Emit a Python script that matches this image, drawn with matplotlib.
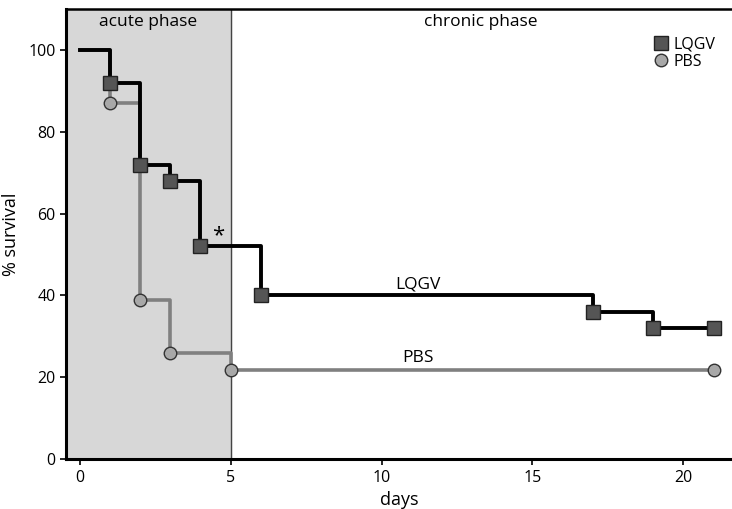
"""Kaplan-Meier style survival curves: LQGV vs PBS."""

import numpy as np
import matplotlib
matplotlib.use("Agg")
import matplotlib.pyplot as plt  # noqa: E402

# step data (day, % survival)
lqgv_days = [0, 1, 2, 3, 4, 6, 17, 19, 21]
lqgv_surv = [100, 92, 72, 68, 52, 40, 36, 32, 32]
pbs_days = [0, 1, 2, 3, 5, 21]
pbs_surv = [100, 87, 39, 26, 21.7, 21.7]

x_ticks = [0, 5, 10, 15, 20]
y_ticks = [0, 20, 40, 60, 80, 100]

plt.rcParams["font.family"] = ["Open Sans", "DejaVu Sans"]

fig = plt.figure(figsize=(7.32, 5.09), dpi=100)
ax = fig.add_axes([0.090, 0.098, 0.912, 0.884])

ax.axvspan(-0.46, 5, color="#d7d7d7", zorder=0)
ax.axvline(5, color="#444444", lw=1.0, zorder=1)

ax.step(pbs_days, pbs_surv, where="post", color="#808080", lw=2.6, zorder=2)
ax.plot(pbs_days[1:], pbs_surv[1:], "o", ms=9, mfc="#a8a8a8", mec="#333333",
        mew=1.0, zorder=3, label="PBS")
ax.step(lqgv_days, lqgv_surv, where="post", color="black", lw=2.8, zorder=4)
ax.plot(lqgv_days[1:], lqgv_surv[1:], "s", ms=9.5, mfc="#555555", mec="#222222",
        mew=1.0, zorder=5, label="LQGV")

ax.text(2.25, 106.8, "acute phase", ha="center", va="center", fontsize=12.5)
ax.text(13.3, 106.8, "chronic phase", ha="center", va="center", fontsize=12.5)
ax.text(11.2, 42.8, "LQGV", ha="center", va="center", fontsize=12.5)
ax.text(11.2, 24.8, "PBS", ha="center", va="center", fontsize=12.5)
ax.text(4.6, 54.5, "*", ha="center", va="center", fontsize=16)

handles, labels = ax.get_legend_handles_labels()
ax.legend(handles[::-1], labels[::-1], loc="upper right", bbox_to_anchor=(0.99, 0.965),
          frameon=False, fontsize=11.5, handletextpad=0.2, labelspacing=0.1,
          handlelength=1.2, borderpad=0.2)

ax.set_xlim(-0.46, 21.66)
ax.set_ylim(0, 110)
ax.set_xticks(x_ticks)
ax.set_yticks(y_ticks)
ax.tick_params(labelsize=11.5, width=1.2, length=4)
ax.set_xlabel("days", fontsize=13, labelpad=4)
ax.set_ylabel("% survival", fontsize=13, labelpad=6)
for side in ["left", "bottom"]:
    ax.spines[side].set_linewidth(2.2)
ax.spines["top"].set_linewidth(1.8)
ax.spines["right"].set_visible(False)

fig.savefig("out.png", dpi=100)
